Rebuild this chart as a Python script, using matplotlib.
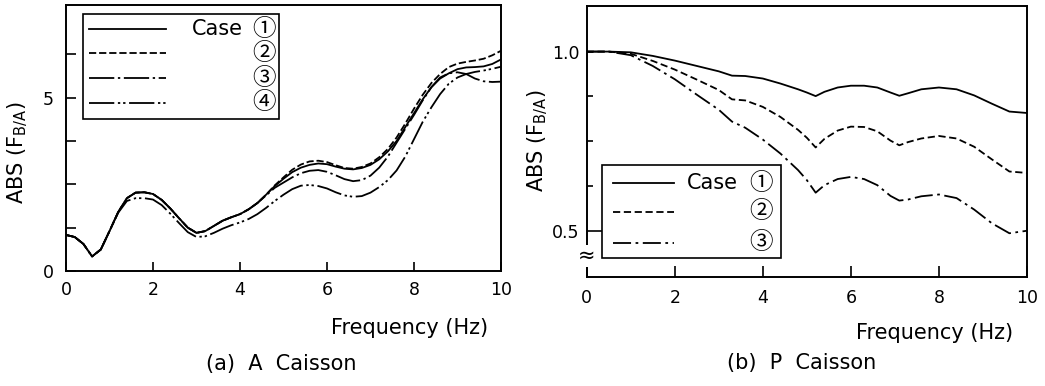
import matplotlib
matplotlib.use("Agg")
import matplotlib.pyplot as plt
from matplotlib.patches import Rectangle
from matplotlib.lines import Line2D

plt.rcParams['font.family'] = ['DejaVu Sans']
plt.rcParams['mathtext.fontset'] = 'dejavusans'

# ---------------- data: (a) A Caisson ----------------
freq_a = [0.0, 0.2, 0.4, 0.6, 0.8, 1.0, 1.2, 1.4, 1.6, 1.8,
          2.0, 2.2, 2.4, 2.6, 2.8, 3.0, 3.2, 3.4, 3.6, 3.8,
          4.0, 4.2, 4.4, 4.6, 4.8, 5.0, 5.2, 5.4, 5.6, 5.8,
          6.0, 6.2, 6.4, 6.6, 6.8, 7.0, 7.2, 7.4, 7.6, 7.8,
          8.0, 8.2, 8.4, 8.6, 8.8, 9.0, 9.2, 9.4, 9.6, 9.8, 10.0]

a_case1 = [1.04, 0.98, 0.78, 0.42, 0.62, 1.15, 1.70, 2.10, 2.26, 2.27,
           2.22, 2.05, 1.80, 1.52, 1.25, 1.10, 1.15, 1.30, 1.45, 1.55,
           1.64, 1.78, 1.96, 2.20, 2.45, 2.66, 2.85, 2.98, 3.06, 3.10,
           3.08, 3.01, 2.95, 2.93, 2.97, 3.06, 3.22, 3.45, 3.75, 4.15,
           4.55, 4.95, 5.30, 5.55, 5.70, 5.82, 5.87, 5.88, 5.90, 5.97, 6.10]

a_case2 = [1.04, 0.98, 0.78, 0.42, 0.62, 1.15, 1.70, 2.10, 2.26, 2.27,
           2.22, 2.05, 1.80, 1.52, 1.25, 1.10, 1.15, 1.30, 1.45, 1.55,
           1.64, 1.78, 1.96, 2.20, 2.47, 2.70, 2.92, 3.07, 3.16, 3.18,
           3.14, 3.05, 2.97, 2.95, 3.00, 3.10, 3.28, 3.52, 3.85, 4.25,
           4.68, 5.08, 5.42, 5.68, 5.88, 5.98, 6.03, 6.07, 6.12, 6.22, 6.35]

a_case3 = [1.04, 0.98, 0.78, 0.42, 0.62, 1.15, 1.70, 2.10, 2.26, 2.27,
           2.22, 2.05, 1.80, 1.52, 1.25, 1.10, 1.15, 1.30, 1.45, 1.55,
           1.64, 1.78, 1.96, 2.18, 2.40, 2.55, 2.70, 2.82, 2.89, 2.91,
           2.86, 2.76, 2.65, 2.59, 2.62, 2.75, 2.98, 3.30, 3.70, 4.10,
           4.50, 4.92, 5.30, 5.58, 5.70, 5.73, 5.68, 5.55, 5.47, 5.45, 5.46]

a_case4 = [1.04, 0.98, 0.78, 0.42, 0.62, 1.15, 1.68, 2.02, 2.10, 2.10,
           2.06, 1.90, 1.65, 1.38, 1.12, 0.98, 1.00, 1.10, 1.22, 1.32,
           1.40, 1.50, 1.64, 1.82, 2.02, 2.20, 2.36, 2.46, 2.48, 2.45,
           2.38, 2.27, 2.18, 2.14, 2.16, 2.26, 2.42, 2.62, 2.90, 3.30,
           3.80, 4.30, 4.72, 5.10, 5.40, 5.58, 5.68, 5.74, 5.78, 5.83, 5.89]

# ---------------- data: (b) P Caisson ----------------
freq_b = [0.0, 0.5, 1.0, 1.5, 2.0, 2.5, 3.0, 3.3, 3.6, 4.0,
          4.4, 4.8, 5.0, 5.2, 5.4, 5.7, 6.0, 6.3, 6.6, 6.9,
          7.1, 7.3, 7.6, 8.0, 8.4, 8.8, 9.2, 9.6, 10.0]

b_case1 = [1.000, 1.000, 0.998, 0.988, 0.975, 0.960, 0.945, 0.933, 0.932, 0.925,
           0.911, 0.895, 0.886, 0.876, 0.888, 0.900, 0.905, 0.905, 0.900, 0.886,
           0.877, 0.884, 0.895, 0.900, 0.895, 0.878, 0.855, 0.833, 0.829]

b_case2 = [1.000, 1.000, 0.994, 0.974, 0.950, 0.922, 0.893, 0.867, 0.864, 0.846,
           0.818, 0.782, 0.760, 0.733, 0.757, 0.780, 0.791, 0.790, 0.778, 0.752,
           0.739, 0.748, 0.758, 0.765, 0.758, 0.735, 0.700, 0.666, 0.662]

b_case3 = [1.000, 1.000, 0.990, 0.960, 0.923, 0.880, 0.838, 0.805, 0.788, 0.755,
           0.716, 0.670, 0.642, 0.607, 0.628, 0.645, 0.651, 0.645, 0.628, 0.598,
           0.585, 0.588, 0.597, 0.602, 0.592, 0.560, 0.522, 0.494, 0.501]

a_labels = ["Case", "", "", ""]
a_marks = ["\u2460", "\u2461", "\u2462", "\u2463"]
b_labels = ["Case", "", ""]
b_marks = ["\u2460", "\u2461", "\u2462"]

a_yticks = [0, 1.25, 2.5, 3.75, 5, 6.25]
a_yticklabels = ["0", "", "", "", "5", ""]
b_yticks = [0.5, 0.625, 0.75, 0.875, 1.0]
b_yticklabels = ["0.5", "", "", "", "1.0"]
xticks = [0, 2, 4, 6, 8, 10]
xticklabels = ["0", "2", "4", "6", "8", "10"]

# ---------------- figure ----------------
W, H = 1045, 386
fig = plt.figure(figsize=(W / 100, H / 100), dpi=100)

def fx(px):
    return px / W

def fy(py):
    return 1 - py / H

LW = 1.3
styles_a = [dict(ls='-'),
            dict(ls=(0, (4, 1.6))),
            dict(ls=(0, (14, 2, 1.3, 2))),
            dict(ls=(0, (14, 2, 1.3, 1.6, 1.3, 2)))]
styles_b = [dict(ls='-'),
            dict(ls=(0, (4, 2))),
            dict(ls=(0, (10, 2.5, 1.5, 2.5)))]

ax1 = fig.add_axes([fx(66), fy(271), fx(501 - 66), (271 - 5) / H])
ax2 = fig.add_axes([fx(586.7), fy(276.7), fx(1027 - 586.7), (276.7 - 6) / H])

for ax in (ax1, ax2):
    for s in ax.spines.values():
        s.set_linewidth(1.4)
    ax.set_xlim(0, 10)
    ax.set_xticks(xticks)
    ax.set_xticklabels(xticklabels)

# panel (a)
for ys, st in zip([a_case1, a_case2, a_case3, a_case4], styles_a):
    ax1.plot(freq_a, ys, color='black', lw=LW, **st)
ax1.set_ylim(0, 7.67)
ax1.set_yticks(a_yticks)
ax1.set_yticklabels(a_yticklabels)
ax1.tick_params(axis='both', direction='in', labelsize=12.5, width=1.2)
ax1.tick_params(axis='x', length=6.5, pad=7)
ax1.tick_params(axis='y', length=7, pad=9)

# panel (b)
for ys, st in zip([b_case1, b_case2, b_case3], styles_b):
    ax2.plot(freq_b, ys, color='black', lw=LW, **st)
ax2.set_ylim(0.373, 1.127)
ax2.set_yticks(b_yticks)
ax2.set_yticklabels(b_yticklabels)
ax2.tick_params(axis='both', direction='in', labelsize=12.5, width=1.2)
ax2.tick_params(axis='x', length=8, pad=9)
ax2.tick_params(axis='y', length=4, pad=5)
# the 0.5 tick runs into the key box
ax2.yaxis.get_major_ticks()[0].tick1line.set_markersize(11.5)

def key_box(ax, box, xs, rows, styles, labels, marks, case_right, mark_x):
    x0, y0, x1, y1 = box
    ax.add_patch(Rectangle((x0, y0), x1 - x0, y1 - y0, transform=ax.transAxes,
                           facecolor='white', edgecolor='black', lw=1.2, zorder=5))
    for yy, st, lab, mk in zip(rows, styles, labels, marks):
        ax.add_line(Line2D(xs, [yy, yy], transform=ax.transAxes, color='black',
                           lw=LW, zorder=6, **st))
        if lab:
            ax.text(case_right, yy, lab, transform=ax.transAxes, ha='right',
                    va='center', fontsize=15, zorder=7)
        ax.text(mark_x, yy, mk, transform=ax.transAxes, ha='center', va='center',
                fontsize=17, family=['Noto Sans CJK JP', 'DejaVu Sans'], zorder=7)

key_box(ax1, (0.0384, 0.571, 0.490, 0.966), [0.053, 0.23],
        [0.909, 0.818, 0.724, 0.633], styles_a, a_labels, a_marks, 0.407, 0.455)
key_box(ax2, (0.035, 0.070, 0.441, 0.413), [0.060, 0.198],
        [0.345, 0.240, 0.126], styles_b, b_labels, b_marks, 0.344, 0.396)

# axis break mark on (b)
ax2.text(0.0, 0.077, "\u2248", transform=ax2.transAxes, ha='center', va='center',
         fontsize=15, zorder=8,
         bbox=dict(boxstyle='square,pad=0.05', facecolor='white', edgecolor='none'))

# labels
fig.text(fx(17.5), fy(152.5), r"ABS (F$_{\mathregular{B/A}}$)", rotation=90,
         ha='center', va='center', fontsize=15)
fig.text(fx(537.5), fy(141), r"ABS (F$_{\mathregular{B/A}}$)", rotation=90,
         ha='center', va='center', fontsize=15)
fig.text(fx(410), fy(328), "Frequency (Hz)", ha='center', va='center', fontsize=15)
fig.text(fx(935), fy(333), "Frequency (Hz)", ha='center', va='center', fontsize=15)
fig.text(fx(281), fy(364), "(a)  A  Caisson", ha='center', va='center', fontsize=15)
fig.text(fx(801.7), fy(363), "(b)  P  Caisson", ha='center', va='center', fontsize=15)

fig.savefig("out.png", dpi=100)
